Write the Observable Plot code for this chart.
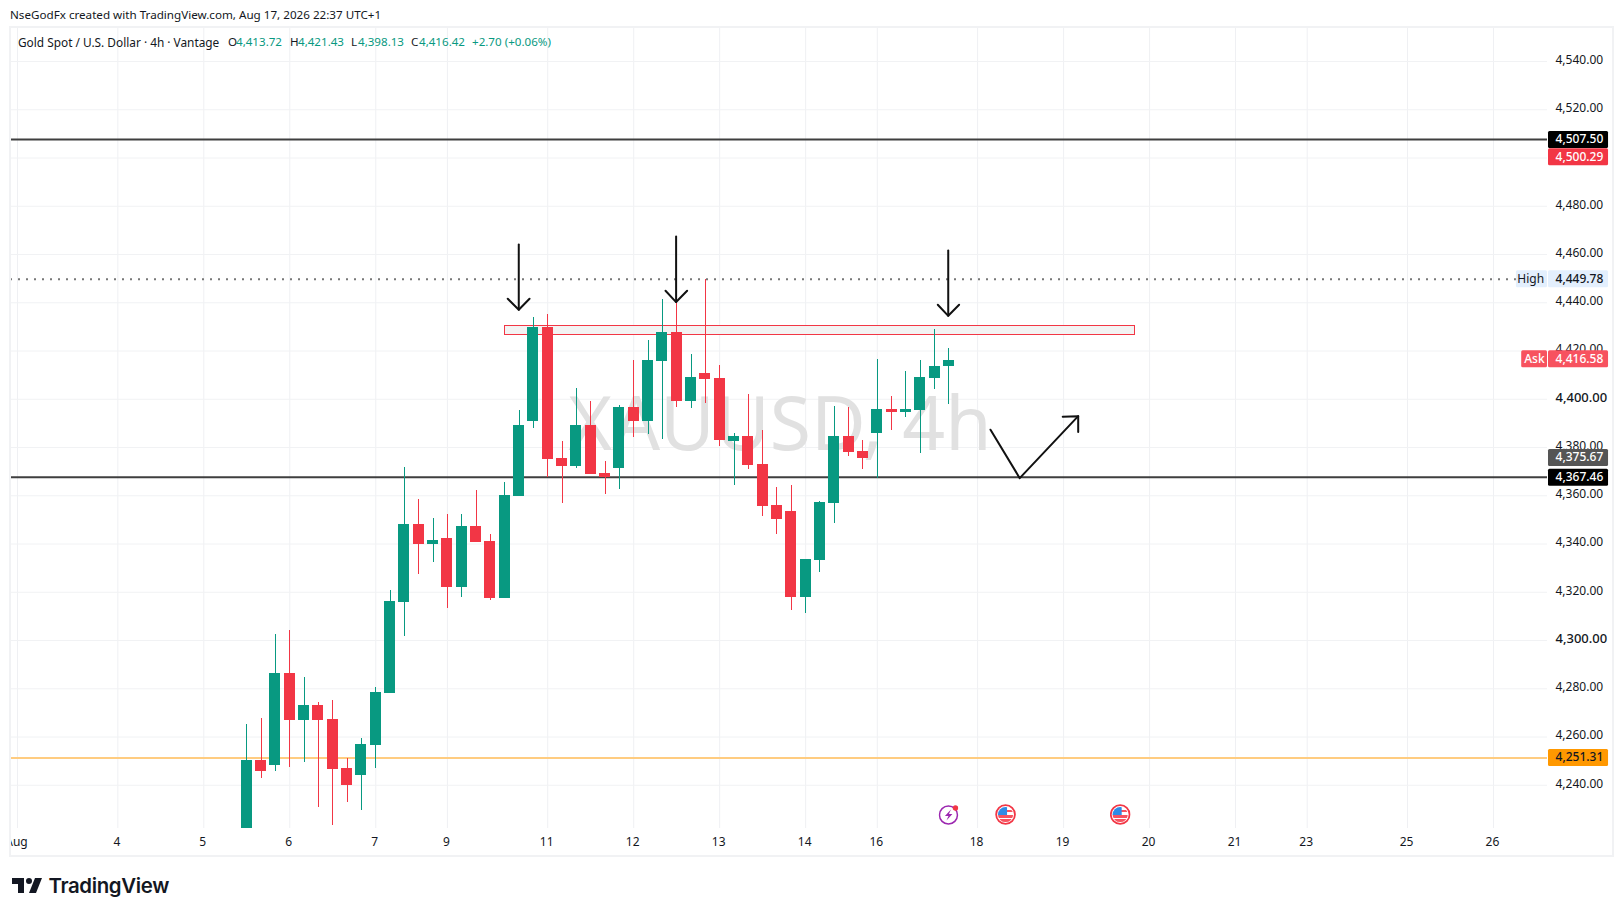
<!DOCTYPE html>
<html><head><meta charset="utf-8">
<script src="https://cdn.jsdelivr.net/npm/d3@7"></script>
<script src="https://cdn.jsdelivr.net/npm/@observablehq/plot@0.6"></script>
<style>
html,body{margin:0;padding:0;background:#fff;overflow:hidden}
#page{position:relative;width:1623px;height:916px;font-family:"Noto Sans",sans-serif;color:#131722}
#chart{position:absolute;left:0;top:27px}
#chart svg{display:block}
.t{position:absolute;white-space:nowrap;font-size:11.6px;line-height:16px}
.g{color:#089981}
#frame{position:absolute;left:9px;top:26px;width:1601px;height:827px;border:2px solid #f1f2f4;pointer-events:none}
#cover{position:absolute;left:0;top:26px;width:9px;height:833px;background:#fff}
#logo{position:absolute;left:10px;top:872px}
#brand{position:absolute;left:48.5px;top:871px;font:600 20.4px/30px Inter,sans-serif;letter-spacing:-.35px;color:#131722}
</style></head><body>
<div id="page">
  <div class="t" style="left:10px;top:7px;font-size:11.65px">NseGodFx created with TradingView.com, Aug 17, 2026 22:37 UTC+1</div>
  <div id="chart"></div>
  <div id="cover"></div>
  <div id="frame"></div>
  <div class="t" style="left:18px;top:34px;font-size:11.85px">Gold Spot / U.S. Dollar · 4h · Vantage</div>
  <div class="t" style="left:228px;top:34px">O</div><div class="t g" style="left:236px;top:34px">4,413.72</div>
  <div class="t" style="left:290px;top:34px">H</div><div class="t g" style="left:298px;top:34px">4,421.43</div>
  <div class="t" style="left:351px;top:34px">L</div><div class="t g" style="left:358px;top:34px">4,398.13</div>
  <div class="t" style="left:411px;top:34px">C</div><div class="t g" style="left:419px;top:34px">4,416.42</div>
  <div class="t g" style="left:472px;top:34px">+2.70 (+0.06%)</div>
  <svg id="logo" width="36" height="28" viewBox="0 0 36 28"><path fill="#131722" d="M14 6H2v6h6v9h6V6Zm12 15h-7l6-15h7l-6 15Zm-7-9a3 3 0 1 0 0-6 3 3 0 0 0 0 6Z"/></svg>
  <div id="brand">TradingView</div>
</div>
<script>
// Candles, one per 4h bar, left to right
const opens  = [4215,4250.5,4248.4,4286.55,4267.07,4273.3,4267.5,4247.2,4244.3,4256.7,4278.3,4316,4348.3,4340,4342.5,4322.2,4347.5,4341.3,4317.6,4359.9,4391,4430,4375.7,4372.35,4389.35,4369.45,4371.5,4396.8,4391,4415.9,4427.9,4399.3,4410.9,4408.8,4382.7,4384.8,4373.2,4356.2,4353.7,4318.05,4333.4,4357,4384.8,4378.6,4386,4396,4394.7,4395.6,4408.8,4413.72];
const highs  = [4265.4,4267.9,4302.7,4304.4,4284.9,4274.5,4275.4,4251.3,4259.6,4280.7,4320.95,4371.9,4358.7,4350.8,4352.5,4352.5,4362.4,4344.2,4365.7,4395.6,4434.1,4435.4,4382.7,4404.7,4399.3,4374.4,4397.6,4416.3,4424.6,4441.6,4439.9,4418.8,4449.78,4414.2,4386,4402.2,4387.3,4363.65,4364.5,4333.8,4357.85,4397.2,4396.8,4383.1,4416.7,4401.4,4411.7,4416.3,4429.1,4421.43];
const lows   = [4210,4243,4245.9,4247.6,4249.7,4231,4223.5,4233.1,4229.8,4247.2,4278.3,4301.9,4327.6,4332.6,4313.5,4318.05,4340.85,4316.8,4317.6,4359.9,4388.1,4367.8,4357,4371.5,4369,4360.75,4362.8,4384.4,4385.6,4383.5,4396.8,4396.4,4398.5,4380.6,4364.5,4371.1,4351.6,4344.2,4312.7,4311.4,4328.4,4348.7,4376.5,4371.1,4367.4,4387.3,4392.7,4377.7,4404.3,4398.13];
const closes = [4250.5,4245.9,4286.55,4267.07,4273.3,4267.07,4246.8,4240.1,4257.1,4278.7,4316.4,4348.3,4340,4341.7,4322.2,4347.5,4340.85,4317.6,4360.3,4389.35,4430,4375.25,4372.35,4389.35,4369,4367.8,4396.8,4391,4416.3,4427.9,4399.3,4409.2,4408.4,4383.1,4384.8,4372.8,4355.8,4350.4,4318.05,4333.8,4357.4,4384.8,4378.15,4375.7,4396,4394.7,4396,4409.2,4413.8,4416.42];

// Time axis (bar index of each labelled session)
const timeTickBars   = [-16,-9,-3,3,9,14,21,27,33,39,44,51,57,63,69,74,81,87];
const timeTickLabels = ["Aug","4","5","6","7","9","11","12","13","14","16","18","19","20","21","23","25","26"];

// Price axis
const priceTicks = [4240,4260,4280,4300,4320,4340,4360,4380,4400,4420,4440,4460,4480,4500,4520,4540];
const minorPriceLabels = [4240,4260,4280,4320,4340,4360,4380,4420,4440,4460,4480,4520,4540];
const majorPriceLabels = [4300, 4400];

// Price-scale tags
const tagPrices = [4507.5,4500.29,4449.78,4416.58,4375.67,4367.46,4251.31];
const tagFills  = ["#000000","#f23645","#e3effd","#f7525f","#555555","#000000","#ff9800"];
const tagInks   = ["#ffffff","#ffffff","#131722","#ffffff","#ffffff","#ffffff","#131722"];

// Drawn levels and the resistance zone
const blackLevels = [4507.5, 4367.46];
const orangeLevel = 4251.31;
const highLevel = 4449.78;
const zone = {bar1: 18, bar2: 62, price1: 4426.8, price2: 4430.67};

// Hand-drawn arrows: [bar, price]
const arrowStrokes = [
  [[18.98,4464.4],[18.98,4437.3]], [[18.21,4441.87],[18.98,4437.3],[19.73,4441.87]],
  [[29.96,4467.7],[29.96,4440.5]], [[29.22,4445.2],[29.96,4440.5],[30.73,4445.2]],
  [[48.95,4461.9],[48.95,4434.8]], [[48.22,4439.4],[48.95,4434.8],[49.71,4439.4]],
  [[51.9,4387.6],[53.94,4367.5],[58.02,4393.2]], [[56.94,4393],[58.02,4393.2],[58.02,4386.6]]
];

// Watermark and calendar events
const watermark = "XAUUSD, 4h";
const eventBars = [49, 52.95, 60.95];
const eventKinds = ["bolt", "flag", "flag"];
const eventPrice = 4228.1;

const svgUri = s => "data:image/svg+xml;utf8," + encodeURIComponent(s);
const flagIcon = svgUri(`<svg xmlns="http://www.w3.org/2000/svg" viewBox="0 0 21 21"><circle cx="10.5" cy="10.5" r="9.4" fill="#fff" stroke="#f23645" stroke-width="1.8"/><clipPath id="c"><circle cx="10.5" cy="10.5" r="7.6"/></clipPath><g clip-path="url(#c)"><rect x="2" y="11" width="17" height="3" fill="#f7525f"/><rect x="2" y="15" width="17" height="4" fill="#f7525f"/><rect x="10" y="6" width="9" height="2" fill="#f7525f"/><rect x="2" y="2" width="10" height="9" fill="#2e8be6"/></g></svg>`);
const boltIcon = svgUri(`<svg xmlns="http://www.w3.org/2000/svg" viewBox="0 0 21 21"><circle cx="10" cy="11" r="9" fill="#fff" stroke="#9c27b0" stroke-width="1.5"/><path d="M12.5 5.5 6.5 12h3.5l-2 4.5 6-6.5h-3.5z" fill="#9c27b0"/><circle cx="17" cy="4" r="2.7" fill="#f23645"/></svg>`);

const candles = opens.map((o, i) => ({i, o, h: highs[i], l: lows[i], c: closes[i]}));
const candleColor = d => d.c >= d.o ? "#089981" : "#f23645";
const label = new Map(timeTickBars.map((b, i) => [b, timeTickLabels[i]]));
const tags = tagPrices.map((p, i) => ({p, fill: tagFills[i], ink: tagInks[i], text: d3.format(",.2f")(p)}));
const strokes = arrowStrokes.flatMap((pts, k) => pts.map(([b, p]) => ({k, b, p})));
const events = eventBars.map((b, i) => ({b, src: eventKinds[i] === "bolt" ? boltIcon : flagIcon}));
const bodyHalf = 0.384, tagX1 = 90.84, tagX2 = 95.03, tagTextX = 91.33, tagHalf = 3.52;

const chart = Plot.plot({
  width: 1623, height: 830,
  marginLeft: 10, marginRight: 76, marginTop: 0, marginBottom: 29,
  style: {fontFamily: '"Noto Sans", sans-serif', fontSize: "12px", background: "transparent", color: "#131722"},
  x: {type: "linear", domain: [-16.49, 90.77], axis: null},
  y: {type: "linear", domain: [4222.3, 4554.3], axis: null},
  marks: [
    Plot.gridX(timeTickBars, {stroke: "#eff0f3", strokeOpacity: 1}),
    Plot.gridY(priceTicks, {stroke: "#f1f2f4", strokeOpacity: 1, dy: -0.5}),
    Plot.text([watermark], {x: 37.2, y: 4389, text: d => d, fontSize: 75, fill: "#e1e1e1", textAnchor: "middle", lineAnchor: "middle"}),
    Plot.rect([zone], {x1: "bar1", x2: "bar2", y1: "price1", y2: "price2", fill: "#f3f3f3", stroke: "#f23645", strokeWidth: 1, shapeRendering: "crispEdges"}),
    Plot.ruleY(blackLevels, {stroke: "#3f3f3f", strokeWidth: 2, dy: -1}),
    Plot.ruleY([orangeLevel], {stroke: "#ffcc80", strokeWidth: 2, dy: -0.5}),
    Plot.ruleY([highLevel], {stroke: "#777", strokeWidth: 2, strokeDasharray: "2 6", dy: -0.5}),
    Plot.ruleX(candles, {x: "i", y1: "l", y2: "h", stroke: candleColor, strokeWidth: 1, clip: "frame", shapeRendering: "crispEdges"}),
    Plot.rect(candles, {x1: d => d.i - bodyHalf, x2: d => d.i + bodyHalf, y1: "o", y2: "c", fill: candleColor, clip: "frame", shapeRendering: "crispEdges"}),
    Plot.line(strokes, {x: "b", y: "p", z: "k", stroke: "#111", strokeWidth: 2, curve: "linear"}),
    Plot.image(events, {x: "b", y: () => eventPrice, src: "src", width: 21, height: 21}),
    Plot.axisX(timeTickBars, {tickSize: 0, tickPadding: 9, tickFormat: d => label.get(d), fontSize: 12, dx: -1, label: null}),
    Plot.axisY(minorPriceLabels, {anchor: "right", tickSize: 0, tickPadding: 8, textAnchor: "start", tickFormat: d3.format(",.2f"), fontSize: 12, dy: -2, label: null}),
    Plot.axisY(majorPriceLabels, {anchor: "right", tickSize: 0, tickPadding: 8, textAnchor: "start", tickFormat: d3.format(",.2f"), fontSize: 13, fontWeight: 500, dy: -2, label: null}),
    Plot.rect(tags, {x1: tagX1, x2: tagX2, y1: d => d.p - tagHalf, y2: d => d.p + tagHalf, fill: "fill", rx: 1.5, dy: -0.5}),
    Plot.text(tags, {x: tagTextX, y: "p", text: "text", fill: "ink", textAnchor: "start", fontSize: 12, fontWeight: 500, dy: -1}),
    Plot.rect([highLevel], {x1: 88.6, x2: 90.77, y1: d => d - tagHalf, y2: d => d + tagHalf, fill: "#e3effd", rx: 1.5, dy: -0.5}),
    Plot.text([highLevel], {x: 89.6, y: d => d, text: () => "High", fontSize: 12, dy: -1}),
    Plot.rect([tagPrices[3]], {x1: 88.97, x2: 90.77, y1: d => d - tagHalf, y2: d => d + tagHalf, fill: "#f7525f", rx: 1.5, dy: -0.5}),
    Plot.text([tagPrices[3]], {x: 89.86, y: d => d, text: () => "Ask", fill: "#fff", fontSize: 12, fontWeight: 500, dy: -1})
  ]
});
document.getElementById("chart").appendChild(chart);
</script>
</body></html>
